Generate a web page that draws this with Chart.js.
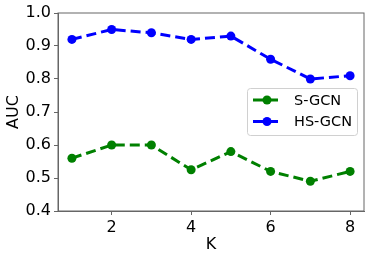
<!DOCTYPE html>
<html lang="en">
  <head>
    <meta charset="UTF-8" />
    <title>AUC vs K</title>
    <style>
      body {
        margin: 0;
        background: #fff;
      }
    </style>
  </head>
  <body>
    <canvas id="myChart" width="374" height="261"></canvas>
  </body>
  <script src="https://cdn.jsdelivr.net/npm/chart.js"></script>
  <script>
    const kValues = [1, 2, 3, 4, 5, 6, 7, 8];
    const sGcn = [0.56, 0.6, 0.6, 0.525, 0.58, 0.52, 0.49, 0.52];
    const hsGcn = [0.92, 0.95, 0.94, 0.92, 0.93, 0.86, 0.8, 0.81];
    const xTicks = [2, 4, 6, 8];
    const yTicks = [0.4, 0.5, 0.6, 0.7, 0.8, 0.9, 1.0];

    const font = "'DejaVu Sans', sans-serif";
    const spine = "#666";

    function points(values) {
      return kValues.map((k, i) => ({ x: k, y: values[i] }));
    }

    function makeSet(label, values, color) {
      return {
        label: label,
        data: points(values),
        borderColor: color,
        backgroundColor: color,
        borderWidth: 3,
        borderDash: [10, 5],
        pointRadius: 4.5,
        pointHoverRadius: 4.5,
        pointBorderWidth: 0,
        tension: 0,
      };
    }

    // frame on all four sides + legend box inside the plot
    const extras = {
      id: "extras",
      afterDraw(chart) {
        const { ctx, chartArea: a } = chart;
        ctx.save();
        ctx.strokeStyle = spine;
        ctx.lineWidth = 1;
        ctx.strokeRect(a.left, a.top, a.right - a.left, a.bottom - a.top);

        // legend
        const bx = 247.5, by = 88.5, bw = 110, bh = 47;
        ctx.beginPath();
        ctx.roundRect(bx, by, bw, bh, 3);
        ctx.fillStyle = "rgba(255,255,255,0.8)";
        ctx.fill();
        ctx.strokeStyle = "#d0d0d0";
        ctx.stroke();

        chart.data.datasets.forEach((ds, i) => {
          const y = 100 + i * 21.5;
          ctx.strokeStyle = ds.borderColor;
          ctx.lineWidth = ds.borderWidth;
          ctx.setLineDash(ds.borderDash);
          ctx.beginPath();
          ctx.moveTo(253, y);
          ctx.lineTo(279, y);
          ctx.stroke();
          ctx.setLineDash([]);
          ctx.fillStyle = ds.backgroundColor;
          ctx.beginPath();
          ctx.arc(267, y, 4.5, 0, Math.PI * 2);
          ctx.fill();
          ctx.fillStyle = "#000";
          ctx.font = "14.5px " + font;
          ctx.textBaseline = "middle";
          ctx.textAlign = "left";
          ctx.fillText(ds.label, 294, y + 1);
        });
        ctx.restore();
      },
    };

    const ctx = document.getElementById("myChart");
    new Chart(ctx, {
      type: "line",
      data: {
        datasets: [
          makeSet("S-GCN", sGcn, "#008000"),
          makeSet("HS-GCN", hsGcn, "#0000ff"),
        ],
      },
      options: {
        responsive: false,
        animation: false,
        layout: { padding: { left: 0, top: 13, right: 10, bottom: 0 } },
        plugins: {
          legend: { display: false },
          tooltip: { enabled: false },
        },
        scales: {
          x: {
            type: "linear",
            min: 0.65,
            max: 8.35,
            afterBuildTicks: (s) => {
              s.ticks = xTicks.map((v) => ({ value: v }));
            },
            afterFit: (s) => {
              s.height = 50;
            },
            grid: {
              drawOnChartArea: false,
              tickLength: 4,
              color: spine,
            },
            border: { color: spine },
            ticks: {
              color: "#000",
              padding: 3,
              font: { family: font, size: 16 },
            },
            title: {
              display: true,
              text: "K",
              color: "#000",
              padding: { top: 0, bottom: 7 },
              font: { family: font, size: 16 },
            },
          },
          y: {
            min: 0.4,
            max: 1.0,
            afterBuildTicks: (s) => {
              s.ticks = yTicks.map((v) => ({ value: v }));
            },
            afterFit: (s) => {
              s.width = 58;
            },
            grid: {
              drawOnChartArea: false,
              tickLength: 4,
              color: spine,
            },
            border: { color: spine },
            ticks: {
              color: "#000",
              padding: 3,
              font: { family: font, size: 16 },
              callback: (v) => v.toFixed(1),
            },
            title: {
              display: true,
              text: "AUC",
              color: "#000",
              padding: { top: 4, bottom: 0 },
              font: { family: font, size: 16 },
            },
          },
        },
      },
      plugins: [extras],
    });
  </script>
</html>
